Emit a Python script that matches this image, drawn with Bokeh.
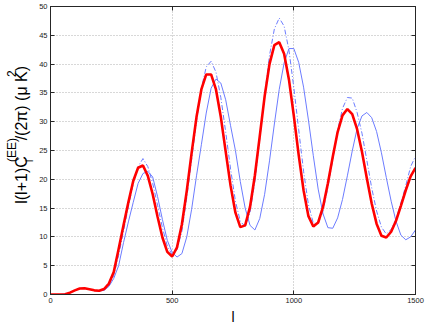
import math
from bokeh.plotting import figure
from bokeh.models import Range1d, FixedTicker, LinearAxis
from bokeh.layouts import row
from bokeh.core.properties import value
from bokeh.embed import file_html
from bokeh.resources import INLINE

# multipole l
ell = [0, 20, 40, 60, 80, 100, 120, 140, 160, 180,
       200, 220, 240, 260, 280, 300, 320, 340, 360, 380,
       400, 420, 440, 460, 480, 500, 520, 540, 560, 580,
       600, 620, 640, 660, 680, 700, 720, 740, 760, 780,
       800, 820, 840, 860, 880, 900, 920, 940, 960, 980,
       1000, 1020, 1040, 1060, 1080, 1100, 1120, 1140, 1160, 1180,
       1200, 1220, 1240, 1260, 1280, 1300, 1320, 1340, 1360, 1380,
       1400, 1420, 1440, 1460, 1480, 1500]

# thick red solid curve
ee_red = [0.0, 0.0, 0.01, 0.05, 0.32, 0.72, 1.03, 1.08, 0.92, 0.72,
          0.64, 0.95, 1.9, 3.9, 7.9, 12.0, 16.0, 19.7, 22.0, 22.4,
          20.6, 17.4, 13.5, 9.9, 7.4, 6.6, 8.2, 12.2, 18.0, 24.6,
          30.8, 35.6, 38.2, 38.2, 35.6, 30.8, 24.8, 18.9, 14.2, 11.7,
          12.0, 15.2, 20.7, 27.5, 34.4, 40.0, 43.3, 43.8, 41.8, 37.3,
          31.0, 24.2, 18.1, 13.6, 11.8, 12.5, 15.2, 19.3, 23.9, 28.2,
          31.1, 32.2, 31.3, 28.7, 24.8, 20.2, 15.8, 12.3, 10.2, 9.9,
          10.9, 12.8, 15.4, 18.1, 20.5, 22.0]

# thin blue solid curve
ee_blue = [0.0, 0.0, 0.01, 0.05, 0.32, 0.72, 1.03, 1.08, 0.92, 0.72,
           0.62, 0.7, 1.4, 2.8, 5.0, 9.0, 12.6, 16.0, 19.3, 21.0,
           21.4, 20.4, 17.0, 13.0, 9.4, 7.3, 6.5, 7.1, 10.0, 14.8,
           20.6, 26.0, 31.5, 35.8, 37.4, 36.7, 33.8, 29.3, 25.0, 19.6,
           15.0, 12.0, 11.2, 13.2, 17.4, 23.2, 29.6, 35.6, 40.2, 42.7,
           42.7, 40.3, 36.0, 30.3, 24.1, 18.3, 14.0, 11.6, 11.5, 13.3,
           16.5, 20.6, 24.9, 28.8, 31.0, 31.6, 30.7, 28.3, 24.6, 20.3,
           16.2, 12.7, 10.3, 9.5, 10.0, 11.2]

# thin blue dash-dot curve
ee_dash = [0.0, 0.0, 0.01, 0.05, 0.32, 0.72, 1.03, 1.08, 0.92, 0.72,
           0.64, 0.85, 1.5, 3.3, 6.8, 11.0, 15.2, 19.2, 22.2, 23.6,
           22.2, 19.3, 15.5, 11.6, 8.4, 6.9, 7.8, 11.0, 16.8, 23.4,
           30.1, 35.8, 39.5, 40.5, 38.6, 34.2, 28.2, 21.8, 16.2, 12.7,
           11.8, 14.3, 19.6, 27.0, 34.6, 41.5, 46.1, 48.0, 46.6, 42.4,
           35.9, 28.6, 21.4, 15.6, 12.4, 12.3, 14.5, 18.6, 23.5, 28.5,
           32.3, 34.2, 34.1, 31.6, 28.0, 23.3, 18.5, 14.5, 11.7, 10.5,
           11.3, 13.1, 15.9, 18.9, 22.2, 24.0]

x_ticks = [0, 500, 1000, 1500]
y_ticks = [0, 5, 10, 15, 20, 25, 30, 35, 40, 45, 50]

# y-axis label pieces: main text, subscript, superscripts
ylab_main1 = "l(l+1)C"
ylab_sub = "l"
ylab_sup1 = "(EE)"
ylab_main2 = "/(2\u03c0) (\u03bc K)"
ylab_sup2 = "2"

FONT = "Liberation Sans"
AX = "#262626"
H = 327

# ---- main chart ----
p = figure(width=390, height=H, output_backend="svg", toolbar_location=None,
           x_range=Range1d(0, 1500), y_range=Range1d(0, 50),
           min_border_left=13, min_border_right=11, min_border_top=6,
           min_border_bottom=32)
p.background_fill_color = "white"
p.border_fill_color = "white"
p.outline_line_color = AX
p.outline_line_width = 1

for ax, ticks in ((p.xaxis[0], x_ticks), (p.yaxis[0], y_ticks)):
    ax.ticker = FixedTicker(ticks=ticks)
    ax.major_tick_in = 4
    ax.major_tick_out = 0
    ax.minor_tick_line_color = None
    ax.axis_line_color = AX
    ax.major_tick_line_color = AX
    ax.major_label_text_font = FONT
    ax.major_label_text_font_size = "7.5px"
    ax.major_label_text_color = "#1a1a1a"
    ax.major_label_standoff = 3

p.xaxis.axis_label = "l"
p.xaxis.axis_label_text_font = FONT
p.xaxis.axis_label_text_font_size = "14px"
p.xaxis.axis_label_text_font_style = "normal"
p.xaxis.axis_label_text_color = "black"
p.xaxis.axis_label_standoff = 3

# box ticks on right and top
for loc, ticks in (("right", y_ticks), ("above", x_ticks)):
    a = LinearAxis(ticker=FixedTicker(ticks=ticks),
                   major_label_overrides={t: "" for t in ticks},
                   major_label_text_font_size="1px",
                   major_label_standoff=0,
                   major_tick_in=4, major_tick_out=0,
                   minor_tick_line_color=None,
                   axis_line_color=AX, major_tick_line_color=AX)
    p.add_layout(a, loc)

for g in (p.xgrid[0], p.ygrid[0]):
    g.grid_line_color = "#b0b0b0"
    g.grid_line_dash = "1 2"
    g.grid_line_width = 1
p.xgrid.ticker = FixedTicker(ticks=x_ticks)
p.ygrid.ticker = FixedTicker(ticks=y_ticks)

p.line(ell, ee_blue, line_color="#6c7cff", line_width=1)
p.line(ell, ee_dash, line_color="#6c7cff", line_width=1, line_dash="5 2 1 2")
p.line(ell, ee_red, line_color="#ff0000", line_width=2.6)

# ---- narrow panel holding the rotated y-axis label (pixel coordinates) ----
LW = 36
lab = figure(width=LW, height=H, output_backend="svg", toolbar_location=None,
             x_range=Range1d(0, LW), y_range=Range1d(0, H),
             x_axis_location=None, y_axis_location=None,
             min_border=0, min_border_left=0, min_border_right=0,
             min_border_top=0, min_border_bottom=0)
lab.outline_line_color = None
lab.xgrid.visible = False
lab.ygrid.visible = False
lab.background_fill_color = "white"
lab.border_fill_color = "white"

rot = math.pi / 2
pieces = [
    (ylab_main1, 21, 224, "16px"),
    (ylab_sub, 29, 176.5, "10px"),
    (ylab_sup1, 11, 176.5, "12px"),
    (ylab_main2, 21, 152, "16px"),
    (ylab_sup2, 11, 80, "12px"),
]
for txt, px, py, fs in pieces:
    lab.text(x=[px], y=[H - py], text=[txt], angle=rot,
             text_font=value(FONT), text_font_size=value(fs),
             text_color="black", text_align="left",
             text_baseline="alphabetic")

layout = row(lab, p, spacing=0)
open("out.html", "w").write(file_html(layout, INLINE))
